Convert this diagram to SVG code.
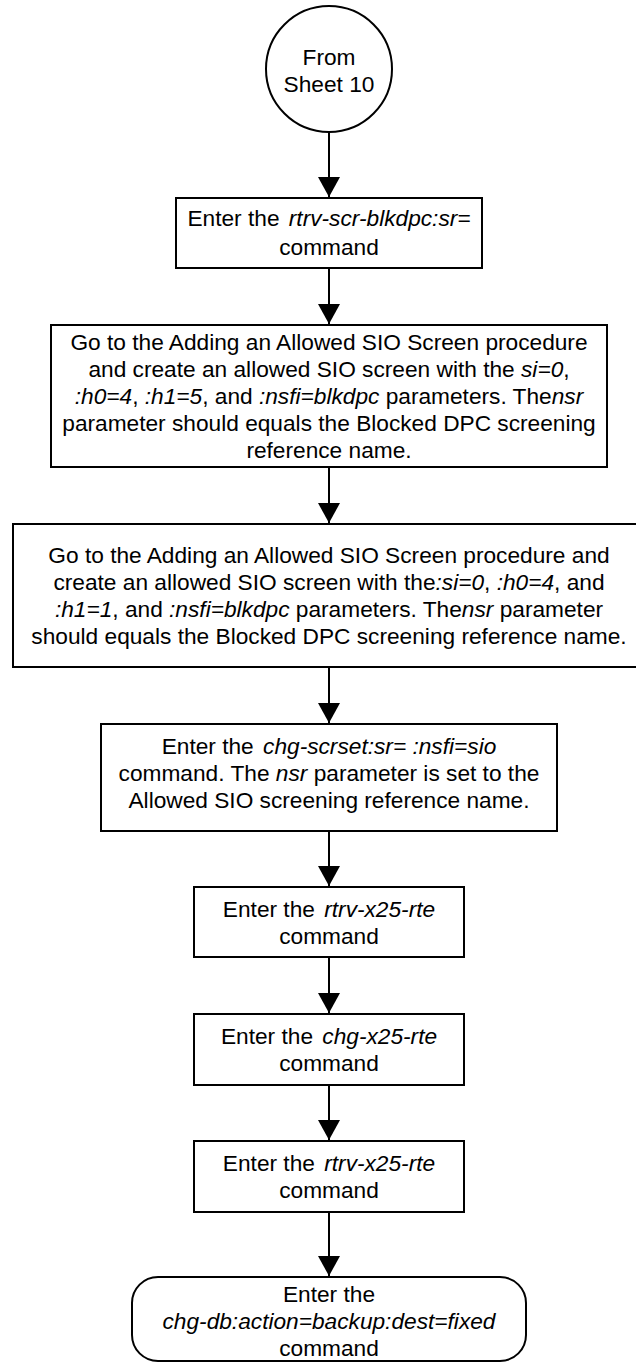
<svg xmlns="http://www.w3.org/2000/svg" width="636" height="1362" viewBox="0 0 636 1362">
<style>
.box{fill:#fff;stroke:#000;stroke-width:2}
.t{font-family:"Liberation Sans",Arial,Helvetica,sans-serif;font-size:22.7px;fill:#000;text-anchor:middle}
.i{font-style:italic}
.c{stroke:#000;stroke-width:2;fill:none}
</style>
<defs>
<marker id="ah" markerWidth="10" markerHeight="11" refX="10" refY="5.5" orient="auto" markerUnits="strokeWidth">
<path d="M0,0 L10,5.5 L0,11 Z" fill="#000"/>
</marker>
</defs>
<rect width="636" height="1362" fill="#fff"/>
<g id="connectors">
<line class="c" x1="329" y1="132" x2="329" y2="197" marker-end="url(#ah)"/>
<line class="c" x1="329" y1="268" x2="329" y2="324" marker-end="url(#ah)"/>
<line class="c" x1="329" y1="467" x2="329" y2="523" marker-end="url(#ah)"/>
<line class="c" x1="329" y1="667" x2="329" y2="723" marker-end="url(#ah)"/>
<line class="c" x1="329" y1="831" x2="329" y2="886" marker-end="url(#ah)"/>
<line class="c" x1="329" y1="957" x2="329" y2="1013" marker-end="url(#ah)"/>
<line class="c" x1="329" y1="1085" x2="329" y2="1140" marker-end="url(#ah)"/>
<line class="c" x1="329" y1="1212" x2="329" y2="1276" marker-end="url(#ah)"/>
</g>
<g id="start">
<circle class="box" cx="329" cy="69" r="63"/>
<text class="t" x="329" y="65">From</text>
<text class="t" x="329" y="92">Sheet 10</text>
</g>
<g id="n1">
<rect class="box" x="176" y="198" width="306" height="70"/>
<text class="t" x="329" y="226">Enter the <tspan class="i" dx="3">rtrv-scr-blkdpc:sr=</tspan></text>
<text class="t" x="329" y="255">command</text>
</g>
<g id="n2">
<rect class="box" x="51" y="325" width="556" height="142"/>
<text class="t" x="329" y="350">Go to the Adding an Allowed SIO Screen procedure</text>
<text class="t" x="329" y="377">and create an allowed SIO screen with the <tspan class="i">si=0</tspan>,</text>
<text class="t" x="329" y="404"><tspan class="i">:h0=4</tspan>, <tspan class="i">:h1=5</tspan>, and <tspan class="i">:nsfi=blkdpc</tspan> parameters. The<tspan class="i">nsr</tspan></text>
<text class="t" x="329" y="431">parameter should equals the Blocked DPC screening</text>
<text class="t" x="329" y="458">reference name.</text>
</g>
<g id="n3">
<rect class="box" x="13" y="524" width="632" height="143"/>
<text class="t" x="329" y="563">Go to the Adding an Allowed SIO Screen procedure and</text>
<text class="t" x="329" y="590">create an allowed SIO screen with the<tspan class="i">:si=0</tspan>, <tspan class="i">:h0=4</tspan>, and</text>
<text class="t" x="329" y="617"><tspan class="i">:h1=1</tspan>, and <tspan class="i">:nsfi=blkdpc</tspan> parameters. The<tspan class="i">nsr</tspan> parameter</text>
<text class="t" x="329" y="644">should equals the Blocked DPC screening reference name.</text>
</g>
<g id="n4">
<rect class="box" x="101" y="724" width="456" height="107"/>
<text class="t" x="329" y="754">Enter the <tspan class="i" dx="3">chg-scrset:sr= :nsfi=sio</tspan></text>
<text class="t" x="329" y="781">command. The <tspan class="i">nsr</tspan> parameter is set to the</text>
<text class="t" x="329" y="808">Allowed SIO screening reference name.</text>
</g>
<g id="n5">
<rect class="box" x="194" y="887" width="270" height="70"/>
<text class="t" x="329" y="917">Enter the <tspan class="i" dx="3">rtrv-x25-rte</tspan></text>
<text class="t" x="329" y="944">command</text>
</g>
<g id="n6">
<rect class="box" x="194" y="1014" width="270" height="71"/>
<text class="t" x="329" y="1044">Enter the <tspan class="i" dx="3">chg-x25-rte</tspan></text>
<text class="t" x="329" y="1071">command</text>
</g>
<g id="n7">
<rect class="box" x="194" y="1141" width="270" height="71"/>
<text class="t" x="329" y="1171">Enter the <tspan class="i" dx="3">rtrv-x25-rte</tspan></text>
<text class="t" x="329" y="1198">command</text>
</g>
<g id="end">
<rect class="box" x="132" y="1277" width="394" height="84" rx="26" ry="26"/>
<text class="t" x="329" y="1302">Enter the</text>
<text class="t" x="329" y="1329"><tspan class="i">chg-db:action=backup:dest=fixed</tspan></text>
<text class="t" x="329" y="1356">command</text>
</g>
</svg>
